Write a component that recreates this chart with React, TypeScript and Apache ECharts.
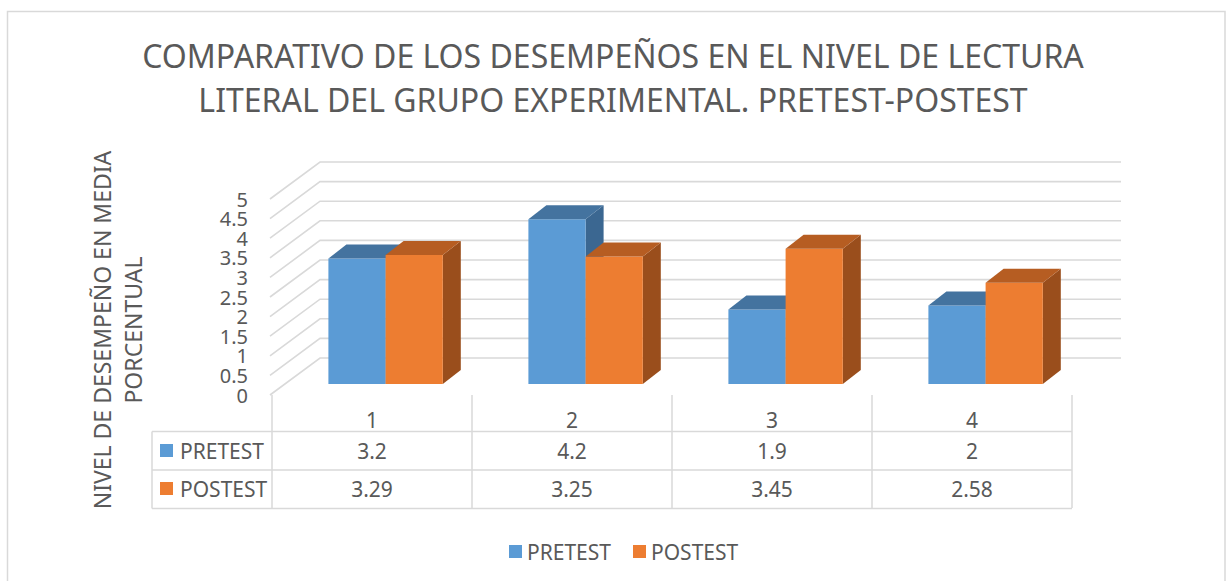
import React, { useEffect, useRef } from "react";
import * as echarts from "echarts";

const categories = ["1", "2", "3", "4"];
const pretest = [3.2, 4.2, 1.9, 2];
const postest = [3.29, 3.25, 3.45, 2.58];
const yTicks = [0, 0.5, 1, 1.5, 2, 2.5, 3, 3.5, 4, 4.5, 5];
const titleText = "COMPARATIVO DE LOS DESEMPEÑOS EN EL NIVEL DE LECTURA\nLITERAL DEL GRUPO EXPERIMENTAL. PRETEST-POSTEST";
const yAxisTitle = "NIVEL DE DESEMPEÑO EN MEDIA\nPORCENTUAL";
const seriesNames = ["PRETEST", "POSTEST"];

const FONT = "Noto Sans";
const TXT = "#595959";
const GRID_LINE = "#d9d9d9";
const FS = 21;

const BLUE = { front: "#5b9bd5", top: "#44739f", side: "#3b6791" };
const ORANGE = { front: "#ed7d31", top: "#b65d22", side: "#9a4e1c" };

function barRenderer(which: number, pal: { front: string; top: string; side: string }, rowOffset: number) {
  return (params: any, api: any) => {
    const idx = api.value(0);
    const v = api.value(1);
    const base = api.coord([idx, 0]);
    const top = api.coord([idx, v]);
    const band = api.size([1, 0])[0];
    const w = band * 0.286;
    const cx = base[0] + band * 0.068;
    const x0 = which === 0 ? cx - w : cx;
    const x1 = x0 + w;
    const yb = base[1] - 11;
    const yt = top[1] - 11;
    const dx = 18;
    const dy = -14;
    const cs = params.coordSys;
    const rowY = cs.y + cs.height + rowOffset;
    return {
      type: "group",
      children: [
        {
          type: "polygon",
          shape: { points: [[x1, yt], [x1 + dx, yt + dy], [x1 + dx, yb + dy], [x1, yb]] },
          style: { fill: pal.side },
        },
        {
          type: "rect",
          shape: { x: x0, y: yt, width: w, height: yb - yt },
          style: { fill: pal.front },
        },
        {
          type: "polygon",
          shape: { points: [[x0, yt], [x1, yt], [x1 + dx, yt + dy], [x0 + dx, yt + dy]] },
          style: { fill: pal.top },
        },
        {
          type: "text",
          style: {
            text: String(v),
            x: base[0],
            y: rowY,
            align: "center",
            verticalAlign: "middle",
            fill: TXT,
            fontSize: FS,
            fontFamily: FONT,
          },
        },
      ],
    };
  };
}

function wallRenderer(params: any, api: any) {
  const v = api.value(0);
  const cs = params.coordSys;
  const y = api.coord([0, v])[1];
  return {
    type: "group",
    children: [
      {
        type: "polyline",
        shape: {
          points: [
            [cs.x - 2, y],
            [cs.x + 48, y - 37],
            [cs.x + cs.width + 49, y - 37],
          ],
        },
        style: { stroke: GRID_LINE, lineWidth: 1.6, fill: null },
      },
      {
        type: "text",
        style: {
          text: String(v),
          x: cs.x - 24,
          y: y,
          align: "right",
          verticalAlign: "middle",
          fill: TXT,
          fontSize: 20,
          lineHeight: 19,
          fontFamily: FONT,
        },
      },
    ],
  };
}

export default function App() {
  const ref = useRef<HTMLDivElement>(null);
  useEffect(() => {
    if (!ref.current) return;
    const chart = echarts.init(ref.current, undefined, { renderer: "svg" });
    chart.setOption({
      animation: false,
      backgroundColor: "#ffffff",
      textStyle: { fontFamily: FONT },
      title: {
        text: titleText,
        left: "center",
        top: 28,
        textStyle: {
          fontSize: 32,
          lineHeight: 44,
          fontWeight: "normal",
          color: TXT,
          fontFamily: FONT,
        },
      },
      legend: {
        data: seriesNames,
        left: 504,
        top: 536,
        icon: "rect",
        itemWidth: 13,
        itemHeight: 13,
        itemGap: 22,
        textStyle: { fontSize: FS, color: TXT, fontFamily: FONT },
      },
      grid: { left: 272, right: 154, top: 199, bottom: 186, containLabel: false },
      xAxis: {
        type: "category",
        data: categories,
        boundaryGap: true,
        axisLine: { show: false },
        axisTick: { show: true, interval: 0, length: 113, lineStyle: { color: GRID_LINE, width: 1.5 } },
        axisLabel: { fontSize: FS, color: TXT, margin: 14, fontFamily: FONT },
        splitLine: { show: false },
      },
      yAxis: {
        type: "value",
        min: 0,
        max: 5,
        interval: 0.5,
        axisLine: { show: false },
        axisTick: { show: false },
        splitLine: { show: false },
        axisLabel: { show: false },
      },
      graphic: [
        {
          type: "rect",
          shape: { x: 7.5, y: 11.5, width: 1217.5, height: 600 },
          style: { fill: null, stroke: GRID_LINE, lineWidth: 1.5 },
          silent: true,
        },
        {
          type: "text",
          x: 117,
          y: 330,
          rotation: Math.PI / 2,
          style: {
            text: yAxisTitle,
            align: "center",
            verticalAlign: "middle",
            fontSize: 23,
            lineHeight: 31,
            fill: TXT,
            fontFamily: FONT,
          },
        },
        { type: "line", shape: { x1: 152, y1: 431.5, x2: 1072, y2: 431.5 }, style: { stroke: GRID_LINE, lineWidth: 1.5 } },
        { type: "line", shape: { x1: 152, y1: 470, x2: 1072, y2: 470 }, style: { stroke: GRID_LINE, lineWidth: 1.5 } },
        { type: "line", shape: { x1: 152, y1: 508.5, x2: 1072, y2: 508.5 }, style: { stroke: GRID_LINE, lineWidth: 1.5 } },
        { type: "line", shape: { x1: 152, y1: 431.5, x2: 152, y2: 508.5 }, style: { stroke: GRID_LINE, lineWidth: 1.5 } },
        { type: "rect", shape: { x: 160, y: 444, width: 13, height: 13 }, style: { fill: BLUE.front } },
        {
          type: "text",
          x: 180,
          y: 451,
          style: { text: seriesNames[0], verticalAlign: "middle", fontSize: FS, fill: TXT, fontFamily: FONT },
        },
        { type: "rect", shape: { x: 160, y: 482, width: 13, height: 13 }, style: { fill: ORANGE.front } },
        {
          type: "text",
          x: 180,
          y: 489,
          style: { text: seriesNames[1], verticalAlign: "middle", fontSize: FS, fill: TXT, fontFamily: FONT },
        },
      ],
      series: [
        {
          type: "custom",
          name: "wall",
          z: 1,
          silent: true,
          data: yTicks.map((t) => [t]),
          renderItem: wallRenderer,
        },
        {
          type: "custom",
          name: seriesNames[0],
          z: 2,
          itemStyle: { color: BLUE.front },
          encode: { x: 0, y: 1 },
          data: pretest.map((v, i) => [i, v]),
          renderItem: barRenderer(0, BLUE, 56),
        },
        {
          type: "custom",
          name: seriesNames[1],
          z: 3,
          itemStyle: { color: ORANGE.front },
          encode: { x: 0, y: 1 },
          data: postest.map((v, i) => [i, v]),
          renderItem: barRenderer(1, ORANGE, 94),
        },
      ],
    });
    return () => chart.dispose();
  }, []);
  return (
    <div
      ref={ref}
      style={{ position: "fixed", left: 0, top: 0, width: 1226, height: 581 }}
    />
  );
}
